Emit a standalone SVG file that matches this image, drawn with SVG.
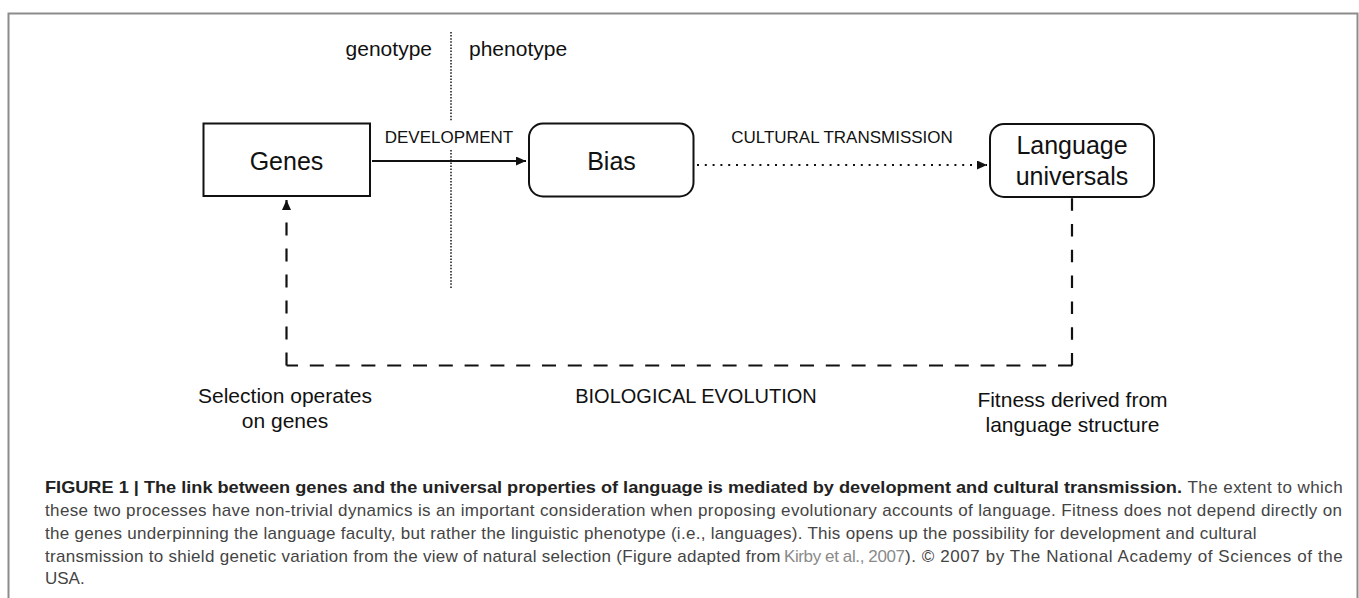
<svg xmlns="http://www.w3.org/2000/svg" width="1359" height="598" viewBox="0 0 1359 598">
<style>
.lbl{font-family:"Liberation Sans",Arial,Helvetica,sans-serif;fill:#111}
.node{font-size:25px;text-anchor:middle}
.small{font-size:17px;text-anchor:middle}
.note{font-size:21px;text-anchor:middle}
.box{fill:#fff;stroke:#111;stroke-width:2}
.frame{stroke:#8c8c8c;stroke-width:2;fill:none}
.cap{font-family:"Liberation Sans",Arial,Helvetica,sans-serif;font-size:17px;fill:#444}
.capb{font-weight:bold;fill:#222}
.link{fill:#8a8a8a}
.dash{stroke:#111;stroke-width:2.2;fill:none}
</style>
<defs>
<marker id="ah" markerUnits="userSpaceOnUse" markerWidth="11" markerHeight="10" refX="10" refY="4.5" orient="auto" viewBox="0 0 11 10">
<path d="M0,0 L10,4.5 L0,9 z" fill="#111"/>
</marker>
</defs>
<rect width="1359" height="598" fill="#fff"/>
<path class="frame" d="M8.5,598 V13.5 H1357.5 V598"/>

<g id="phase-divider">
<line x1="451" y1="32" x2="451" y2="122" stroke="#222" stroke-width="1.6" stroke-dasharray="1.5 1.6"/>
<line x1="451" y1="150" x2="451" y2="289" stroke="#222" stroke-width="1.6" stroke-dasharray="1.5 1.6"/>
<text class="lbl" x="432" y="56" font-size="21" text-anchor="end">genotype</text>
<text class="lbl" x="469" y="56" font-size="21">phenotype</text>
</g>

<g id="connectors">
<line x1="372" y1="161" x2="526" y2="161" stroke="#111" stroke-width="1.8" marker-end="url(#ah)"/>
<text class="lbl small" x="449" y="142.7">DEVELOPMENT</text>
<line x1="697" y1="165" x2="987" y2="165" stroke="#111" stroke-width="2" stroke-dasharray="2 5.8" marker-end="url(#ah)"/>
<text class="lbl small" x="842" y="142.7">CULTURAL TRANSMISSION</text>
<line class="dash" x1="1072" y1="365.5" x2="1072" y2="197.5" stroke-dasharray="12.5 13.3"/>
<line class="dash" x1="1072" y1="365.5" x2="286.5" y2="365.5" stroke-dasharray="14 11.8"/>
<line class="dash" x1="286.5" y1="365.5" x2="286.5" y2="200" stroke-dasharray="13 13" marker-end="url(#ah)"/>
<text class="lbl" x="696" y="403" font-size="20" text-anchor="middle">BIOLOGICAL EVOLUTION</text>
</g>

<g id="genes">
<rect class="box" x="203.5" y="123.5" width="166.5" height="72.5"/>
<text class="lbl node" x="286.5" y="169.5">Genes</text>
</g>

<g id="bias">
<rect class="box" x="529" y="123.5" width="164.5" height="73" rx="14" ry="14"/>
<text class="lbl node" x="611.5" y="169.5">Bias</text>
</g>

<g id="language-universals">
<rect class="box" x="990" y="124" width="164" height="73" rx="14" ry="14"/>
<text class="lbl node" x="1072" y="154">Language</text>
<text class="lbl node" x="1072" y="184.5">universals</text>
</g>

<g id="selection-note">
<text class="lbl note" x="285" y="403.3">Selection operates</text>
<text class="lbl note" x="285" y="427.7">on genes</text>
</g>

<g id="fitness-note">
<text class="lbl note" x="1072.5" y="406.7">Fitness derived from</text>
<text class="lbl note" x="1072.5" y="431.7">language structure</text>
</g>

<g id="caption">
<text class="cap capb" x="45" y="493.3" textLength="1137" lengthAdjust="spacingAndGlyphs">FIGURE 1 | The link between genes and the universal properties of language is mediated by development and cultural transmission.</text>
<text class="cap" x="1187.5" y="493.3" textLength="155.2" lengthAdjust="spacing">The extent to which</text>
<text class="cap" x="45" y="516" textLength="1297" lengthAdjust="spacing">these two processes have non-trivial dynamics is an important consideration when proposing evolutionary accounts of language. Fitness does not depend directly on</text>
<text class="cap" x="45" y="539" textLength="1211.5" lengthAdjust="spacing">the genes underpinning the language faculty, but rather the linguistic phenotype (i.e., languages). This opens up the possibility for development and cultural</text>
<text class="cap" x="45" y="561.7" textLength="735.5" lengthAdjust="spacing">transmission to shield genetic variation from the view of natural selection (Figure adapted from</text>
<text class="cap link" x="784" y="561.7" textLength="121" lengthAdjust="spacing">Kirby et al., 2007</text>
<text class="cap" x="905" y="561.7" textLength="437.7" lengthAdjust="spacing">). © 2007 by The National Academy of Sciences of the</text>
<text class="cap" x="45" y="584.3">USA.</text>
</g>
</svg>
